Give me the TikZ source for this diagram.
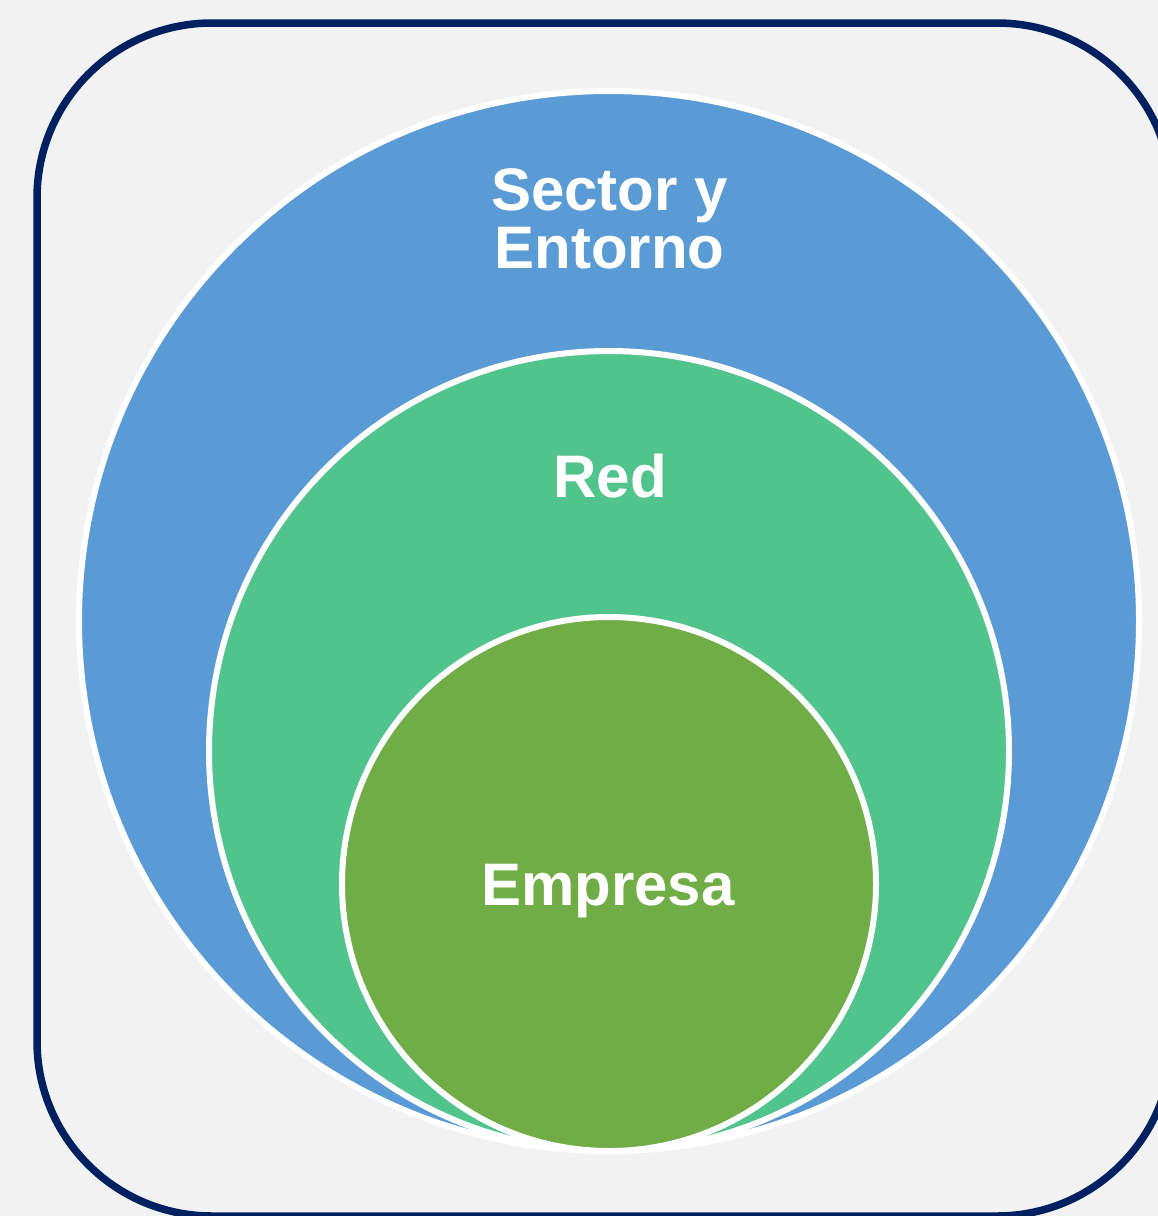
\documentclass[tikz,border=0pt]{standalone}
\usepackage{fontspec}
\setmainfont{Liberation Sans}
\definecolor{sectorblue}{HTML}{5B9BD5}
\definecolor{redgreen}{HTML}{50C48C}
\definecolor{empresagreen}{HTML}{70AD47}
\definecolor{framenavy}{HTML}{002060}
\definecolor{bggray}{HTML}{F2F2F2}

\begin{document}
\begin{tikzpicture}[x=1pt,y=-1pt,ring/.style={circle,draw=white,line width=6pt,inner sep=0pt},lbl/.style={text=white,font=\fontsize{60}{58}\selectfont\bfseries,align=center,anchor=base}]
	% page and frame
	\fill[bggray] (0,0) rectangle (1158,1216);
	\useasboundingbox (0,0) rectangle (1158,1216);
	\draw[framenavy,line width=7.5pt,rounded corners=175pt] (37,23) rectangle (1172,1216);
	% nested circles, all touching at the bottom
	\node[ring,fill=sectorblue,minimum size=1060pt] (sector) at (609,621) {};
	\node[ring,fill=redgreen,minimum size=800pt] (red) at (609,751) {};
	\node[ring,fill=empresagreen,minimum size=534pt] (empresa) at (609,884) {};
	\node[lbl] (sectorlbl) at (609.5,268) {Sector y\\Entorno};
	\node[lbl] (redlbl) at (610,497) {Red};
	\node[lbl] (empresalbl) at (608,905) {Empresa};
\end{tikzpicture}
\end{document}
